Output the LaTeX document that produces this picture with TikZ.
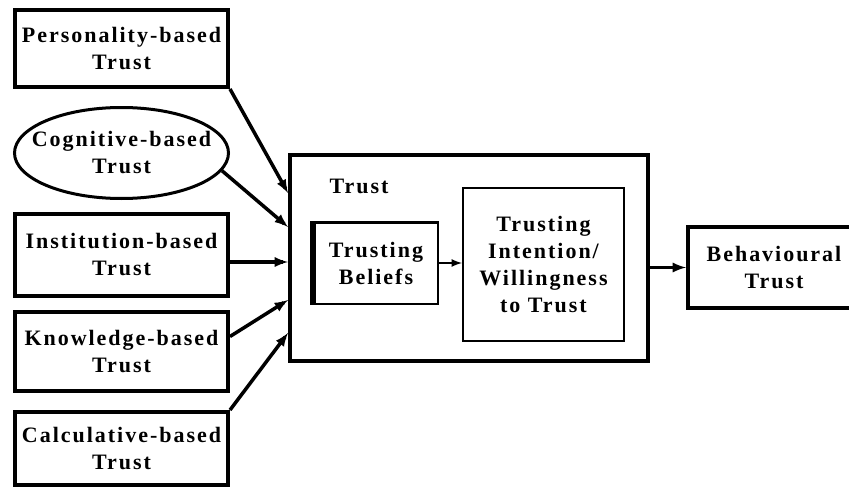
\documentclass[tikz,border=0pt]{standalone}
\usepackage{fontspec}
\setmainfont[LetterSpace=9]{Liberation Serif}
\usetikzlibrary{shapes.geometric}
\usetikzlibrary{decorations.markings}

\begin{document}
\begin{tikzpicture}[x=1pt, y=-1pt,
  txt/.style={font=\bfseries\fontsize{22}{27}\selectfont, align=center, inner sep=0pt},
  basis/.style={txt, draw, line width=4pt, minimum width=213pt},
  feed/.style={line width=3.5pt, shorten >=5pt, decoration={markings,mark=at position 1 with {\arrow{latex}}}, postaction={decorate}}]
\path[use as bounding box, clip] (0,0) rectangle (849,495);
% left column
\node[basis, minimum height=77pt] (pers) at (121.5,48.5) {Personality-based\\Trust};
\node[txt, draw, ellipse, line width=3pt, minimum width=214pt, minimum height=91pt, inner xsep=-32pt, inner ysep=-6pt] (cog) at (121.5,153) {Cognitive-based\\Trust};
\node[basis, minimum height=82pt] (inst) at (121.5,255) {Institution-based\\Trust};
\node[basis, minimum height=79pt] (know) at (121.5,351.5) {Knowledge-based\\Trust};
\node[basis, minimum height=73pt] (calc) at (121.5,448.5) {Calculative-based\\Trust};
% trust box
\node[draw, line width=4pt, minimum width=358pt, minimum height=206pt] (trust) at (469,258) {};
\node[txt] (title) at (359,186) {Trust};
\node[txt, draw, line width=2.5pt, minimum width=123.5pt, minimum height=81.5pt] (beliefs) at (376,263) {Trusting\\Beliefs};
\draw[line width=5pt] ([xshift=-1pt]beliefs.north west) -- ([xshift=-1pt]beliefs.south west);
\node[txt, draw, line width=2pt, minimum width=161pt, minimum height=153pt] (intent) at (543.5,264.5) {Trusting\\Intention/\\Willingness\\to Trust};
\node[basis, minimum width=172pt, minimum height=81pt] (behav) at (774,267.5) {Behavioural\\Trust};
% arrows in
\coordinate (e1) at (288,193);
\coordinate (e2) at (288,227);
\coordinate (e3) at (288,262);
\coordinate (e4) at (288,300);
\coordinate (e5) at (288,333);
\draw[feed] (pers.south east) -- (e1);
\draw[feed] (cog.-10) -- (e2);
\draw[feed] (inst.east |- e3) -- (e3);
\draw[feed] ([yshift=15pt]know.east) -- (e4);
\draw[feed] (calc.north east) -- (e5);
\draw[feed, line width=2.5pt] (beliefs.east) -- (beliefs.east -| intent.west);
\draw[feed] (trust.east |- behav.west) -- (behav.west);
\end{tikzpicture}
\end{document}
